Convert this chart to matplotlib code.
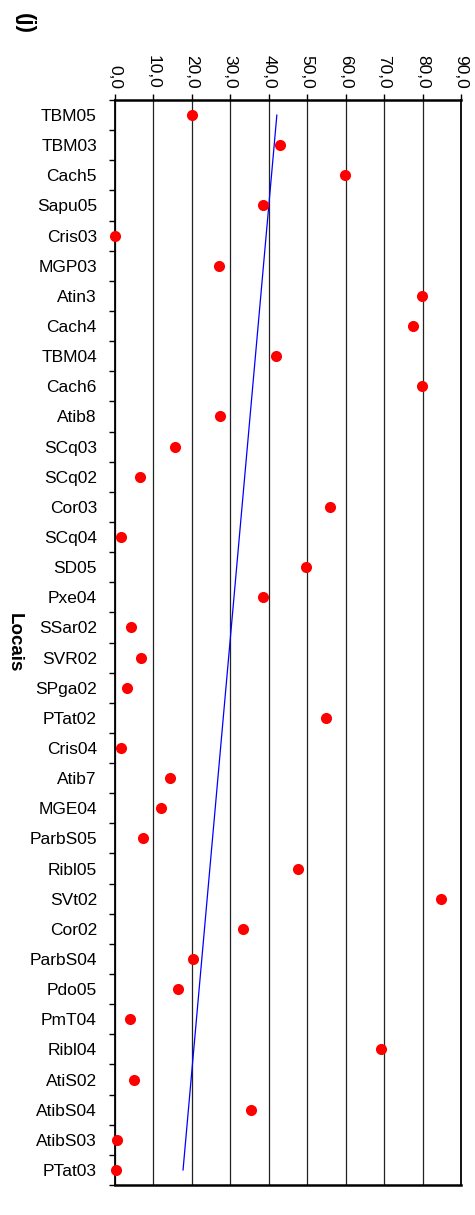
import matplotlib
matplotlib.use("Agg")
import matplotlib.pyplot as plt
import numpy as np

plt.rcParams['font.family'] = ['Liberation Sans', 'DejaVu Sans']

locais = ["TBM05", "TBM03", "Cach5", "Sapu05", "Cris03", "MGP03", "Atin3", "Cach4",
          "TBM04", "Cach6", "Atib8", "SCq03", "SCq02", "Cor03", "SCq04", "SD05",
          "Pxe04", "SSar02", "SVR02", "SPga02", "PTat02", "Cris04", "Atib7", "MGE04",
          "ParbS05", "Ribl05", "SVt02", "Cor02", "ParbS04", "Pdo05", "PmT04", "Ribl04",
          "AtiS02", "AtibS04", "AtibS03", "PTat03"]
valores = [19.9, 42.9, 59.7, 38.5, 0.0, 27.0, 79.8, 77.4,
           42.0, 79.8, 27.2, 15.6, 6.5, 55.8, 1.5, 49.6,
           38.5, 4.2, 6.7, 3.0, 54.9, 1.5, 14.4, 12.0,
           7.4, 47.6, 84.8, 33.4, 20.4, 16.5, 4.0, 69.2,
           4.9, 35.4, 0.6, 0.35]
tendencia = [42.1, 17.7]  # trend line values at first and last locality
xticks = [0, 10, 20, 30, 40, 50, 60, 70, 80, 90]
xticklabels = ["0,0", "10,0", "20,0", "30,0", "40,0", "50,0", "60,0", "70,0", "80,0", "90,0"]

W, H = 475, 1215
fig = plt.figure(figsize=(W / 100, H / 100), dpi=100)
ax = fig.add_axes([115 / W, 1 - 1185 / H, (461 - 115) / W, (1185 - 100) / H])

n = len(locais)
pos = np.arange(n)

ax.set_xlim(0, 90)
ax.set_ylim(n - 0.5, -0.5)

for xv in xticks:
    ax.axvline(xv, color='#222222', lw=0.9, zorder=1)

ax.plot([tendencia[0], tendencia[1]], [pos[0], pos[-1]], color='blue', lw=0.9, zorder=2)
ax.plot(valores, pos, 'o', color='red', markersize=8.0, markeredgewidth=0, zorder=3,
        clip_on=False)

# x axis on top
ax.xaxis.tick_top()
ax.set_xticks(xticks)
ax.set_xticklabels(xticklabels, rotation=-90, fontsize=12.5, va='bottom', ha='center')
ax.tick_params(axis='x', direction='out', length=4, width=1, pad=4, colors='black')

# y axis: ticks at boundaries, labels at centers
ax.set_yticks(np.arange(-0.5, n, 1.0))
ax.set_yticklabels([])
ax.set_yticks(pos, minor=True)
ax.set_yticklabels(locais, minor=True, fontsize=12.5)
ax.tick_params(axis='y', which='major', direction='out', length=4, width=1)
ax.tick_params(axis='y', which='minor', length=0, pad=13)

for side in ['top', 'bottom']:
    ax.spines[side].set_linewidth(1.8)
for side in ['left', 'right']:
    ax.spines[side].set_linewidth(1.3)

fig.text(14 / W, 1 - 643 / H, "Locais", rotation=-90, fontsize=13.5, fontweight='bold',
         ha='center', va='center')
fig.text(24 / W, 1 - 23.5 / H, "(j)", rotation=-90, fontsize=16, fontweight='bold',
         ha='center', va='center')

fig.savefig("out.png", dpi=100, facecolor='white')
